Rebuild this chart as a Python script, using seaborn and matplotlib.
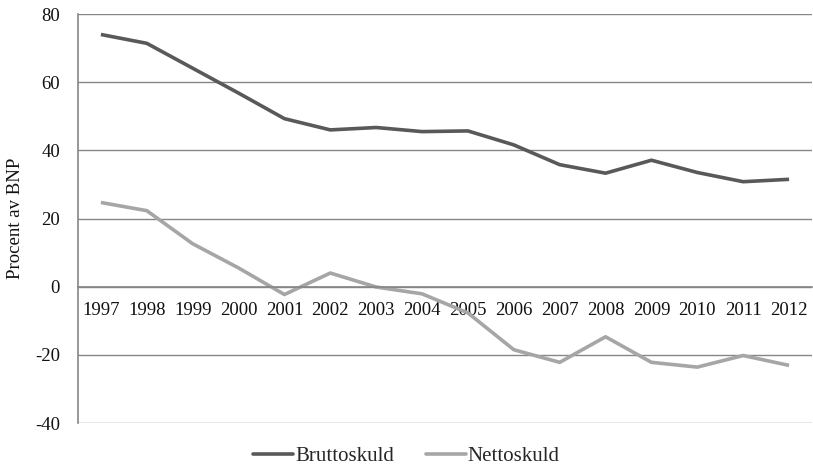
import matplotlib
matplotlib.use("Agg")
import matplotlib.pyplot as plt
import seaborn as sns
import pandas as pd

years = [str(y) for y in range(1997, 2013)]
bruttoskuld = [74.0, 71.4, 64.1, 56.8, 49.3, 46.0, 46.7, 45.5, 45.7, 41.6, 35.8, 33.3, 37.1, 33.5, 30.8, 31.5]
nettoskuld = [24.7, 22.3, 12.6, 5.5, -2.3, 4.0, -0.1, -2.1, -7.7, -18.5, -22.2, -14.7, -22.2, -23.6, -20.2, -23.1]
series_names = ["Bruttoskuld", "Nettoskuld"]
colors = ["#595959", "#a6a6a6"]
y_ticks = [-40, -20, 0, 20, 40, 60, 80]

sns.set_theme(style="white")
plt.rcParams["font.family"] = ["Liberation Serif", "DejaVu Serif"]

df = pd.DataFrame({
    "pos": list(range(len(years))) * 2,
    "value": bruttoskuld + nettoskuld,
    "serie": [series_names[0]] * len(years) + [series_names[1]] * len(years),
})

fig = plt.figure(figsize=(8.13, 4.72), dpi=100)
ax = fig.add_axes([0.0959, 0.1038, 0.9029, 0.8665])

sns.lineplot(data=df, x="pos", y="value", hue="serie", palette=colors,
             linewidth=2.6, ax=ax, legend=False, solid_capstyle="butt")

ax.set_xlim(-0.5, len(years) - 0.5)
ax.set_ylim(-40, 80)
ax.set_yticks(y_ticks)
ax.set_yticklabels([str(v) for v in y_ticks], fontsize=13.5, color="#111111")
ax.yaxis.grid(True, color="#868686", linewidth=1.0)
ax.set_axisbelow(True)

# category labels sit along the zero line
ax.spines["bottom"].set_position(("data", 0))
ax.spines["bottom"].set_color("#868686")
ax.spines["bottom"].set_linewidth(1.2)
ax.set_xticks(range(len(years)))
ax.set_xticklabels(years, fontsize=13.5, color="#111111")
ax.tick_params(axis="x", length=0, pad=11)
ax.tick_params(axis="y", length=0, pad=13)
for side in ["top", "right"]:
    ax.spines[side].set_visible(False)
ax.spines["left"].set_color("#868686")
ax.spines["left"].set_linewidth(1.2)

ax.set_xlabel("")
ax.set_ylabel("Procent av BNP", fontsize=13.5, color="#111111")
ax.yaxis.set_label_coords(-0.074, 0.5)

handles = [plt.Line2D([0], [0], color=c, linewidth=2.6) for c in colors]
fig.legend(handles, series_names, loc="lower center", ncol=2, frameon=False,
           fontsize=15, handlelength=1.9, handletextpad=0.1, columnspacing=1.55,
           bbox_to_anchor=(0.5, -0.028))

fig.savefig("out.png", dpi=100)
